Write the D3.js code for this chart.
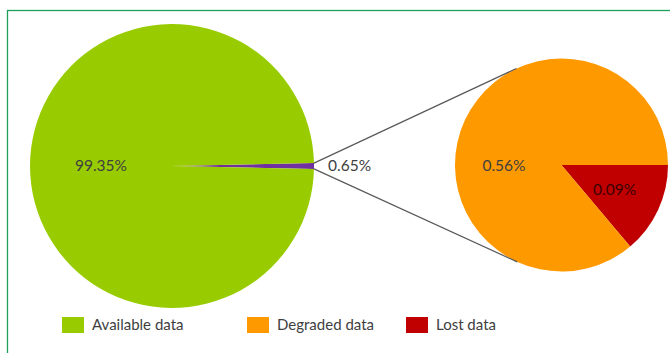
<!DOCTYPE html>
<html>
<head>
<meta charset="utf-8">
<script src="https://cdn.jsdelivr.net/npm/d3@7"></script>
<style>
  body { margin: 0; background: #fff; }
  svg text { font-family: Lato, "Open Sans", sans-serif; fill: #404040; }
</style>
</head>
<body>
<svg id="chart" width="670" height="353"></svg>
<script>
// main pie: available vs. rest (rest is split in the small pie)
const mainLabels = ["Other", "Available data"]
const mainValues = [0.65, 99.35]
const mainText = ["0.65%", "99.35%"]

// small pie: breakdown of the 0.65%
const subLabels = ["Lost data", "Degraded data"]
const subValues = [0.09, 0.56]
const subText = ["0.09%", "0.56%"]

const legendLabels = ["Available data", "Degraded data", "Lost data"]

const colors = {
  "Available data": "#99cc00",
  "Other": "#7030a0",
  "Degraded data": "#ff9900",
  "Lost data": "#c00000"
}

const svg = d3.select("#chart")

// frame (only top and left edges fall inside the picture)
svg.append("rect")
  .attr("x", 7.5).attr("y", 10.5)
  .attr("width", 720).attr("height", 400)
  .attr("fill", "none")
  .attr("stroke", "#1fa05a")
  .attr("stroke-width", 1.3)

const main = { cx: 172, cy: 166, r: 142 }
const sub = { cx: 561.5, cy: 165, r: 106.5 }

// purple slice centred at 3 o'clock
const total = d3.sum(mainValues)
const halfOther = Math.PI * mainValues[0] / total
const mainPie = d3.pie().sort(null).value(d => d)
  .startAngle(Math.PI / 2 - halfOther)
  .endAngle(Math.PI / 2 - halfOther + 2 * Math.PI)
const mainArcs = mainPie(mainValues)
const mainArc = d3.arc().innerRadius(0).outerRadius(main.r)

const gMain = svg.append("g").attr("transform", `translate(${main.cx},${main.cy})`)
gMain.selectAll("path")
  .data(mainArcs).enter().append("path")
  .attr("d", mainArc)
  .attr("fill", (d, i) => colors[mainLabels[i]])

// small pie, lost slice starts at 3 o'clock going clockwise
const subPie = d3.pie().sort(null).value(d => d)
  .startAngle(Math.PI / 2).endAngle(Math.PI / 2 + 2 * Math.PI)
const subArcs = subPie(subValues)
const subArc = d3.arc().innerRadius(0).outerRadius(sub.r)

const gSub = svg.append("g").attr("transform", `translate(${sub.cx},${sub.cy})`)
gSub.selectAll("path")
  .data(subArcs).enter().append("path")
  .attr("d", subArc)
  .attr("fill", (d, i) => colors[subLabels[i]])

// connector lines: from purple slice edges to tangent points of small pie
const other = mainArcs[0]
function polar(c, r, a) { return [c.cx + r * Math.sin(a), c.cy - r * Math.cos(a)] }
const p1 = polar(main, main.r, other.startAngle)
const p2 = polar(main, main.r, other.endAngle)
function tangent(p, upper) {
  const dx = p[0] - sub.cx, dy = p[1] - sub.cy
  const d = Math.hypot(dx, dy)
  const base = Math.atan2(dy, dx)
  const t = Math.acos(sub.r / d)
  const a = upper ? base + t : base - t
  return [sub.cx + sub.r * Math.cos(a), sub.cy + sub.r * Math.sin(a)]
}
const t1 = tangent(p1, true)
const t2 = tangent(p2, false)
svg.append("g").selectAll("line")
  .data([[p1, t1], [p2, t2]]).enter().append("line")
  .attr("x1", d => d[0][0]).attr("y1", d => d[0][1])
  .attr("x2", d => d[1][0]).attr("y2", d => d[1][1])
  .attr("stroke", "#595959").attr("stroke-width", 1.2)

// labels
const fs = 15.5
gMain.append("text")
  .attr("x", -main.r * 0.5).attr("y", 0).attr("dy", "0.35em")
  .attr("text-anchor", "middle").attr("font-size", fs)
  .text(mainText[1])
gMain.append("text")
  .attr("x", main.r + 14).attr("y", 0).attr("dy", "0.35em")
  .attr("text-anchor", "start").attr("font-size", fs)
  .text(mainText[0])

gSub.append("text")
  .attr("x", -sub.r * 0.54).attr("y", 1).attr("dy", "0.35em")
  .attr("text-anchor", "middle").attr("font-size", fs)
  .text(subText[1])
const lostC = d3.arc().innerRadius(0).outerRadius(sub.r * 1.1).centroid(subArcs[0])
gSub.append("text")
  .attr("x", lostC[0]).attr("y", lostC[1]).attr("dy", "0.35em")
  .attr("text-anchor", "middle").attr("font-size", fs)
  .style("fill", "#3a0000")
  .text(subText[0])

// legend
const legendX = d3.scaleOrdinal().domain(legendLabels).range([62, 247, 406])
const leg = svg.append("g").selectAll("g")
  .data(legendLabels).enter().append("g")
  .attr("transform", d => `translate(${legendX(d)},317)`)
leg.append("rect")
  .attr("width", 22).attr("height", 16)
  .attr("fill", d => colors[d])
leg.append("text")
  .attr("x", 30).attr("y", 8).attr("dy", "0.35em")
  .attr("font-size", 15)
  .text(d => d)
</script>
</body>
</html>
